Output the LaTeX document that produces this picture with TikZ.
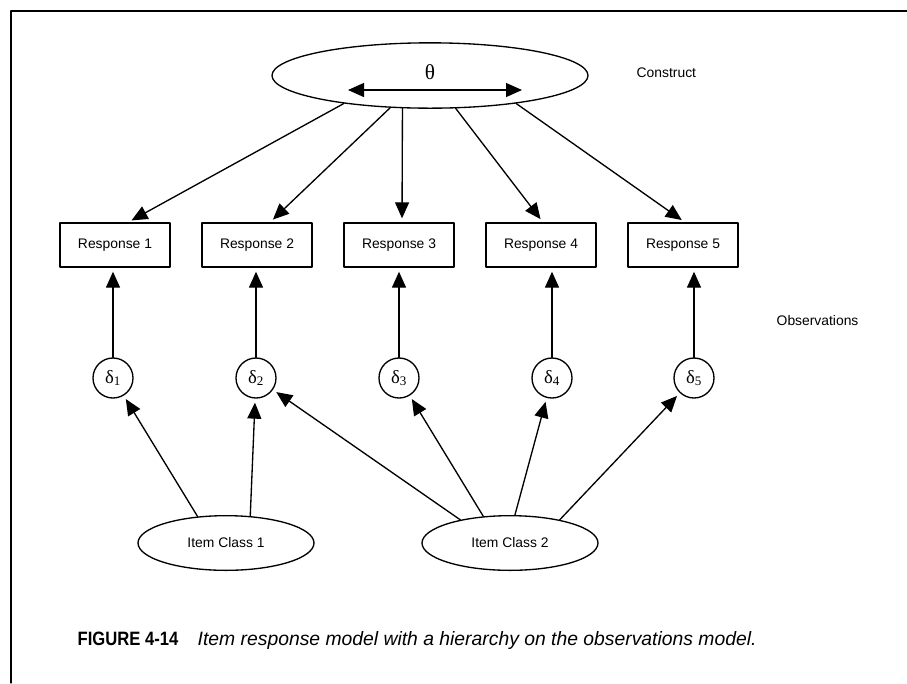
\documentclass[tikz,border=0pt]{standalone}
\usepackage{fontspec}
\setmainfont{Liberation Sans}
\newfontfamily\greekfont{Liberation Serif}
\newfontfamily\figfont[FakeStretch=0.86]{Liberation Sans}
\usetikzlibrary{arrows.meta,shapes.geometric}

\begin{document}
\begin{tikzpicture}[x=0.75pt,y=-0.75pt,>={Triangle[length=12pt,width=10.5pt]},
	font=\fontsize{10.4}{12}\selectfont, line join=round, line cap=round,
	box/.style={draw,line width=1pt,minimum width=82.5pt,minimum height=33pt,inner sep=0pt},
	ovl/.style={draw,line width=1pt,ellipse,inner sep=0pt},
	err/.style={draw,line width=1pt,circle,minimum size=30pt,inner sep=0pt,font=\greekfont\fontsize{14}{16}\selectfont},
	arr/.style={->,line width=1pt,shorten >=3pt}]
	% [Frame - Layer 0]
	\useasboundingbox (0,0) rectangle (907,683);
	\draw[line width=0.9pt] (11,683) -- (11,11) -- (907,11);
	
	% [Construct - Layer 1]
	\node[ovl,minimum width=237pt,minimum height=49pt] (constr) at (430,75.5) {};
	\node[font=\greekfont\fontsize{16}{18}\selectfont] (theta) at (430,72.5) {θ};
	\coordinate (tl) at (348,90);
	\coordinate (tr) at (522,90);
	\draw[<->,line width=1pt] (tl) -- (tr);
	\node[anchor=west] (lblc) at (632,73) {Construct};
	
	% [Responses - Layer 2]
	\node[box] (r1) at (115,245) {Response 1};
	\node[box] (r2) at (257,245) {Response 2};
	\node[box] (r3) at (399,245) {Response 3};
	\node[box] (r4) at (541,245) {Response 4};
	\node[box] (r5) at (683,245) {Response 5};
	\node[anchor=west] (lblo) at (772,321) {Observations};
	
	% [Item parameters - Layer 3]
	\node[err] (d1) at (113,378) {δ\textsubscript{1}};
	\node[err] (d2) at (256,378) {δ\textsubscript{2}};
	\node[err] (d3) at (399,378) {δ\textsubscript{3}};
	\node[err] (d4) at (552,378) {δ\textsubscript{4}};
	\node[err] (d5) at (694,378) {δ\textsubscript{5}};
	\node[ovl,minimum width=132pt,minimum height=41pt] (ic1) at (226,543) {Item Class 1};
	\node[ovl,minimum width=132pt,minimum height=41pt] (ic2) at (510,543) {Item Class 2};
	
	% [Arrows - Layer 4]
	\draw[arr] (constr.198) -- ([xshift=9.75pt]r1.north);
	\draw[arr] (constr.219) -- ([xshift=9.75pt]r2.north);
	\draw[arr] (constr.230) -- ([xshift=2.25pt]r3.north);
	\draw[arr] (constr.308) -- ([xshift=1.5pt]r4.north);
	\draw[arr] (constr.342) -- ([xshift=1.5pt]r5.north);
	\draw[arr] (d1.north) -- (d1.north |- r1.south);
	\draw[arr] (d2.north) -- (d2.north |- r2.south);
	\draw[arr] (d3.north) -- (d3.north |- r3.south);
	\draw[arr] (d4.north) -- (d4.north |- r4.south);
	\draw[arr] (d5.north) -- (d5.north |- r5.south);
	\draw[arr] (ic1.137) -- (d1);
	\draw[arr] (ic1.48) -- (d2);
	\draw[arr] (ic2.155) -- (d2);
	\draw[arr] (ic2.135) -- (d3);
	\draw[arr] (ic2.80) -- (d4);
	\draw[arr] (ic2.25) -- (d5);
	
	% [Caption - Layer 5]
	\node[anchor=base west,font=\figfont\bfseries\fontsize{14.5}{16}\selectfont] (fig) at (73,645) {FIGURE 4-14};
	\node[anchor=base west,font=\itshape\fontsize{14.5}{16}\selectfont] (cap) at (193,645) {Item response model with a hierarchy on the observations model.};
\end{tikzpicture}
\end{document}
